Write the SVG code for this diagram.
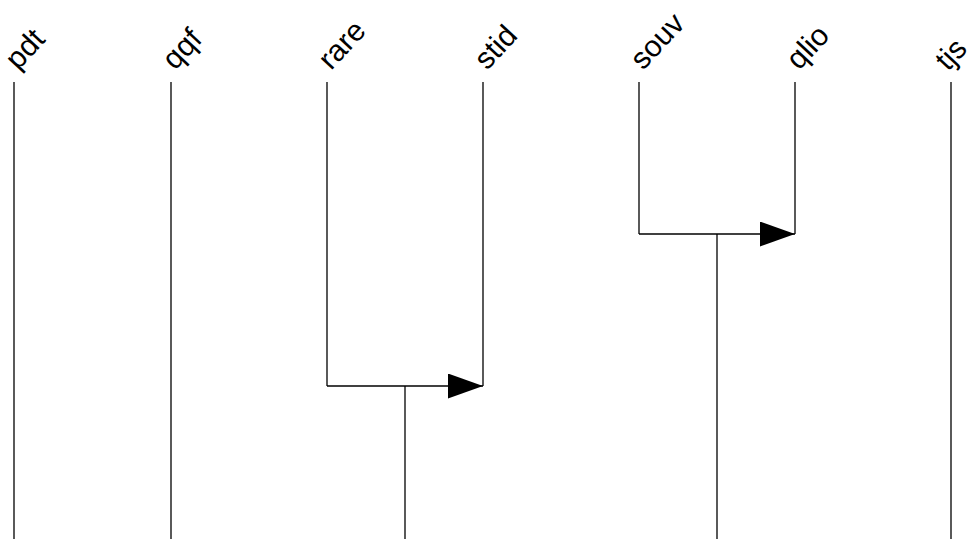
<svg xmlns="http://www.w3.org/2000/svg" width="974" height="539" viewBox="0 0 974 539">
<style>
.ln{stroke:#000;stroke-width:1.3;fill:none}
.lb{font-family:"Liberation Sans",Arial,sans-serif;font-size:30px;fill:#000}
</style>
<defs>
<marker id="ah" markerUnits="userSpaceOnUse" markerWidth="36" markerHeight="26" refX="35" refY="12.5" orient="auto">
<path d="M0,0 L35,12.5 L0,25 z" fill="#000"/>
</marker>
</defs>
<rect width="974" height="539" fill="#fff"/>
<g id="pdt"><text class="lb" transform="translate(18,71) rotate(-47)">pdt</text><path class="ln" d="M14,82 V539"/></g>
<g id="qqf"><text class="lb" transform="translate(175,71) rotate(-47)">qqf</text><path class="ln" d="M171,82 V539"/></g>
<g id="rare"><text class="lb" transform="translate(331,71) rotate(-47)">rare</text><path class="ln" d="M327,82 V386"/></g>
<g id="stid"><text class="lb" transform="translate(487,71) rotate(-47)">stid</text><path class="ln" d="M483,82 V386"/></g>
<g id="souv"><text class="lb" transform="translate(643,71) rotate(-47)">souv</text><path class="ln" d="M639,82 V234"/></g>
<g id="qlio"><text class="lb" transform="translate(799,71) rotate(-47)">qlio</text><path class="ln" d="M795,82 V234"/></g>
<g id="tjs"><text class="lb" transform="translate(948,72) rotate(-47)">tjs</text><path class="ln" d="M951,82 V539"/></g>
<g id="connectors">
<path class="ln" d="M327,386 H483" marker-end="url(#ah)"/>
<path class="ln" d="M405,386 V539"/>
<path class="ln" d="M639,234 H795" marker-end="url(#ah)"/>
<path class="ln" d="M717,234 V539"/>
</g>
</svg>
